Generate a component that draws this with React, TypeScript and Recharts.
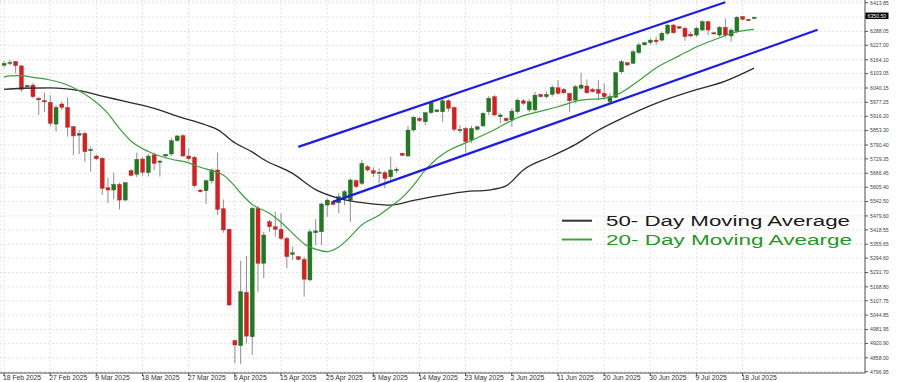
import React from 'react';
import { ComposedChart, Bar, Line, XAxis, YAxis, CartesianGrid } from 'recharts';

// ---- Candle data (index = trading session incl. Sunday sessions) ----
const candleOpen = [
  6140, 6148, 6156, 6137, 6045, 6053, 5995, 5985, 5977, 5882,
  5970, 5955, 5871, 5833, 5841, 5765, 5742, 5732, 5603, 5593,
  5618, 5549, 5678, 5662, 5729, 5669, 5747, 5715, 5742, 5751,
  5809, 5831, 5742, 5736, 5593, 5590, 5633, 5681, 5511, 5421,
  4933, 4911, 5145, 4950, 5513, 5272, 5454, 5432, 5421, 5381,
  5311, 5301, 5289, 5199, 5406, 5410, 5527, 5542, 5537, 5557,
  5549, 5634, 5622, 5695, 5678, 5666, 5669, 5651, 5678, 5754,
  5742, 5856, 5907, 5892, 5932, 5936, 5936, 5984, 5955, 5853,
  5863, 5812, 5859, 5874, 5936, 6002, 5914, 5907, 5900, 5936,
  5984, 5944, 5944, 6012, 6002, 6012, 6041, 6034, 6017, 5987,
  6039, 6049, 6034, 6034, 6017, 5980, 5999, 6111, 6151, 6148,
  6195, 6229, 6239, 6250, 6250, 6280, 6316, 6309, 6302, 6276,
  6272, 6294, 6331, 6282, 6272, 6306, 6268, 6287, 6353, 6341,
  6344,
];
const candleHigh = [
  6158, 6163, 6159, 6141, 6056, 6061, 6002, 6020, 6009, 5966,
  5980, 5999, 5874, 5856, 5849, 5783, 5748, 5739, 5647, 5669,
  5625, 5630, 5684, 5757, 5736, 5751, 5757, 5725, 5752, 5820,
  5834, 5839, 5776, 5742, 5597, 5640, 5688, 5757, 5552, 5425,
  4939, 5283, 5304, 5519, 5523, 5410, 5462, 5498, 5491, 5389,
  5345, 5305, 5301, 5421, 5465, 5537, 5557, 5548, 5581, 5593,
  5644, 5640, 5725, 5703, 5693, 5688, 5678, 5739, 5693, 5757,
  5874, 5917, 5912, 5936, 5980, 5948, 5991, 5991, 5958, 5878,
  5870, 5874, 5876, 5936, 6005, 6009, 5929, 5912, 5951, 5995,
  5992, 5992, 6024, 6016, 6024, 6053, 6075, 6040, 6019, 6053,
  6107, 6078, 6040, 6075, 6061, 6017, 6111, 6163, 6155, 6207,
  6239, 6242, 6258, 6265, 6287, 6320, 6320, 6312, 6309, 6287,
  6309, 6338, 6335, 6285, 6312, 6345, 6302, 6356, 6356, 6343,
  6353,
];
const candleLow = [
  6131, 6141, 6104, 6024, 6042, 5995, 5922, 5936, 5871, 5849,
  5944, 5827, 5747, 5751, 5717, 5673, 5725, 5571, 5535, 5552,
  5508, 5546, 5652, 5649, 5655, 5652, 5681, 5652, 5740, 5742,
  5805, 5739, 5722, 5605, 5582, 5532, 5622, 5484, 5406, 5086,
  4834, 4830, 4921, 4870, 5147, 5206, 5410, 5389, 5374, 5250,
  5286, 5285, 5126, 5194, 5352, 5352, 5476, 5525, 5491, 5527,
  5454, 5601, 5615, 5673, 5651, 5622, 5601, 5637, 5668, 5742,
  5739, 5849, 5891, 5878, 5926, 5933, 5892, 5936, 5849, 5842,
  5757, 5799, 5854, 5869, 5922, 5917, 5885, 5893, 5870, 5929,
  5966, 5935, 5936, 5998, 5995, 6002, 6009, 6012, 5936, 5973,
  6034, 6014, 6020, 5988, 5988, 5973, 5995, 6104, 6136, 6145,
  6189, 6226, 6229, 6229, 6243, 6272, 6277, 6299, 6247, 6262,
  6265, 6291, 6272, 6274, 6265, 6262, 6243, 6280, 6338, 6332,
  6341,
];
const candleClose = [
  6148, 6153, 6138, 6034, 6051, 6002, 5988, 5979, 5885, 5955,
  5955, 5868, 5830, 5841, 5761, 5771, 5730, 5600, 5593, 5618,
  5549, 5625, 5657, 5728, 5671, 5742, 5710, 5720, 5749, 5809,
  5830, 5742, 5730, 5612, 5586, 5634, 5681, 5508, 5418, 5089,
  4914, 5148, 4953, 5513, 5272, 5396, 5432, 5421, 5381, 5301,
  5318, 5289, 5202, 5410, 5414, 5532, 5549, 5530, 5564, 5586,
  5637, 5608, 5710, 5681, 5666, 5671, 5644, 5681, 5684, 5745,
  5856, 5912, 5897, 5932, 5976, 5944, 5984, 5951, 5859, 5859,
  5805, 5863, 5870, 5929, 5995, 5922, 5922, 5897, 5939, 5987,
  5973, 5980, 6009, 6002, 6012, 6043, 6017, 6019, 5984, 6046,
  6053, 6019, 6024, 6017, 6002, 6002, 6107, 6155, 6141, 6199,
  6229, 6239, 6250, 6243, 6280, 6316, 6282, 6302, 6265, 6268,
  6302, 6331, 6294, 6277, 6306, 6272, 6294, 6350, 6341, 6335,
  6350,
];

// ---- Moving averages (session index, value) ----
const ma20Index = [0, 1, 3, 5, 8, 11, 13, 15, 18, 20, 22, 25, 27, 29, 32, 34, 36, 38, 40, 41, 43, 46, 48, 51, 52, 54, 56, 58, 60, 62, 65, 67, 69, 71, 73, 75, 77, 81, 85, 89, 92, 96, 100, 104, 106, 110, 113, 117, 120, 124, 126, 130];
const ma20Value = [6088, 6093, 6094, 6087, 6075, 6053, 6028, 5996, 5929, 5863, 5808, 5762, 5742, 5728, 5712, 5693, 5678, 5659, 5610, 5580, 5530, 5491, 5452, 5380, 5358, 5334, 5323, 5343, 5388, 5440, 5483, 5520, 5560, 5615, 5680, 5730, 5765, 5810, 5857, 5910, 5932, 5958, 5987, 5995, 6008, 6072, 6128, 6181, 6220, 6260, 6280, 6297];
const ma50Index = [0, 3, 8, 13, 17, 21, 26, 30, 35, 37, 40, 43, 45, 50, 54, 58, 63, 67, 71, 76, 80, 84, 87, 90, 95, 99, 103, 107, 113, 119, 125, 130];
const ma50Value = [6034, 6039, 6041, 6029, 6005, 5981, 5951, 5917, 5878, 5858, 5800, 5760, 5727, 5666, 5595, 5557, 5535, 5527, 5548, 5571, 5586, 5593, 5611, 5681, 5742, 5792, 5855, 5906, 5973, 6025, 6070, 6127];

// ---- Channel trend lines ----
const upperChannelIndex = [51, 125];
const upperChannelValue = [5782, 6416];
const lowerChannelIndex = [57, 141];
const lowerChannelValue = [5541, 6295];

// ---- Axis ticks ----
const xTickIndex = [0, 8, 16, 24, 32, 40, 48, 56, 64, 72, 80, 88, 96, 104, 112, 120, 128];
const xTickLabels = ['18 Feb 2025', '27 Feb 2025', '9 Mar 2025', '18 Mar 2025', '27 Mar 2025', '6 Apr 2025', '15 Apr 2025', '25 Apr 2025', '5 May 2025', '14 May 2025', '23 May 2025', '2 Jun 2025', '11 Jun 2025', '20 Jun 2025', '30 Jun 2025', '9 Jul 2025', '18 Jul 2025'];
const yTickValues = [6413.85, 6350.95, 6288.05, 6227.0, 6164.1, 6103.05, 6040.15, 5977.25, 5916.2, 5853.3, 5790.4, 5729.35, 5666.45, 5605.4, 5542.5, 5479.6, 5418.55, 5355.65, 5294.6, 5231.7, 5168.8, 5107.75, 5044.85, 4981.95, 4920.9, 4858.0, 4796.95];
const currentPriceTick = 6350.95;
const currentPriceLabel = '6350.50';

const candles = candleOpen.map((o, i) => ({
  i,
  open: o,
  high: candleHigh[i],
  low: candleLow[i],
  close: candleClose[i],
  range: [candleLow[i], candleHigh[i]],
}));
const ma20Data = ma20Index.map((i, k) => ({ i, v: ma20Value[k] }));
const ma50Data = ma50Index.map((i, k) => ({ i, v: ma50Value[k] }));
const upperData = upperChannelIndex.map((i, k) => ({ i, v: upperChannelValue[k] }));
const lowerData = lowerChannelIndex.map((i, k) => ({ i, v: lowerChannelValue[k] }));

const FONT = '"Liberation Sans", Arial, sans-serif';

const Candle = (props: any) => {
  const { x, y, width, height, payload } = props;
  if (!payload || x == null || y == null) return null;
  const { open, close, high, low } = payload;
  const top = Math.min(y, y + height);
  const h = Math.abs(height);
  const span = high - low;
  const k = span > 0 ? h / span : 0;
  const py = (v: number) => top + (high - v) * k;
  const cx = x + width / 2;
  const up = close >= open;
  const bTop = py(Math.max(open, close));
  const bBot = py(Math.min(open, close));
  const bh = Math.max(bBot - bTop, 1.2);
  return (
    <g>
      <line x1={cx} x2={cx} y1={top} y2={top + h} stroke="#8e8e8e" strokeWidth={1} />
      <rect
        x={cx - 2}
        y={bTop}
        width={4}
        height={bh}
        fill={up ? '#1d7d1d' : '#e31a1a'}
        stroke={up ? '#3d5f3d' : '#8f3a3a'}
        strokeWidth={0.4}
      />
    </g>
  );
};

const XTick = (props: any) => {
  const { x, y, payload } = props;
  const idx = xTickIndex.indexOf(payload.value);
  return (
    <text x={x - 1} y={y + 4} fontSize={6.8} fontFamily={FONT} fill="#333" textAnchor="start">
      {idx >= 0 ? xTickLabels[idx] : ''}
    </text>
  );
};

const YTick = (props: any) => {
  const { x, y, payload } = props;
  if (payload.value === currentPriceTick) {
    return (
      <g>
        <rect x={x - 4.5} y={y - 4.5} width={23} height={6.5} fill="#000" />
        <text x={x - 2.5} y={y - 1.2} dy={1.8} fontSize={5.2} fontFamily={FONT} fill="#fff" textAnchor="start">
          {currentPriceLabel}
        </text>
      </g>
    );
  }
  return (
    <text x={x} y={y} dy={1.8} fontSize={5.2} fontFamily={FONT} fill="#444" textAnchor="start">
      {payload.value.toFixed(2)}
    </text>
  );
};

export default function App() {
  return (
    <div style={{ position: 'absolute', left: 0, top: 0, width: 900, height: 382, background: '#fff', overflow: 'hidden' }}>
      <ComposedChart width={900} height={382} data={candles} margin={{ top: 0, right: 0, bottom: 0, left: 0 }}>
        <CartesianGrid strokeDasharray="2 2" stroke="#e2e2e2" />
        <XAxis
          dataKey="i"
          type="number"
          domain={[-0.693, 149.22]}
          allowDataOverflow
          ticks={xTickIndex}
          interval={0}
          tick={<XTick />}
          tickSize={3}
          tickMargin={0}
          height={9}
          axisLine={{ stroke: '#555' }}
          tickLine={{ stroke: '#555' }}
        />
        <YAxis
          orientation="right"
          type="number"
          domain={[4791.3, 6425.7]}
          allowDataOverflow
          ticks={yTickValues}
          interval={0}
          tick={<YTick />}
          tickSize={3}
          tickMargin={2}
          width={35}
          axisLine={{ stroke: '#555' }}
          tickLine={{ stroke: '#555' }}
        />
        <Bar dataKey="range" barSize={4} shape={<Candle />} activeBar={false} isAnimationActive={false} />
        <Line data={ma50Data} dataKey="v" type="monotone" stroke="#2b2b2b" strokeWidth={1.3} dot={false} activeDot={false} isAnimationActive={false} />
        <Line data={ma20Data} dataKey="v" type="monotone" stroke="#3c9f3c" strokeWidth={1.2} dot={false} activeDot={false} isAnimationActive={false} />
        <Line data={upperData} dataKey="v" type="linear" stroke="#1c1ce8" strokeWidth={2.2} dot={false} activeDot={false} isAnimationActive={false} />
        <Line data={lowerData} dataKey="v" type="linear" stroke="#1c1ce8" strokeWidth={2.2} dot={false} activeDot={false} isAnimationActive={false} />
      </ComposedChart>
      <svg width={900} height={382} style={{ position: 'absolute', left: 0, top: 0, pointerEvents: 'none' }}>
        <line x1={562} x2={592} y1={220.7} y2={220.7} stroke="#333" strokeWidth={2} />
        <text x={606} y={225.5} fontSize={14} fontFamily={FONT} fill="#1a1a1a" textLength={244} lengthAdjust="spacingAndGlyphs">
          50- Day Moving Average
        </text>
        <line x1={562} x2={592} y1={239.5} y2={239.5} stroke="#3aa63a" strokeWidth={2} />
        <text x={606} y={244.5} fontSize={14} fontFamily={FONT} fill="#1f991f" textLength={246} lengthAdjust="spacingAndGlyphs">
          20- Day Moving Avearge
        </text>
      </svg>
    </div>
  );
}
